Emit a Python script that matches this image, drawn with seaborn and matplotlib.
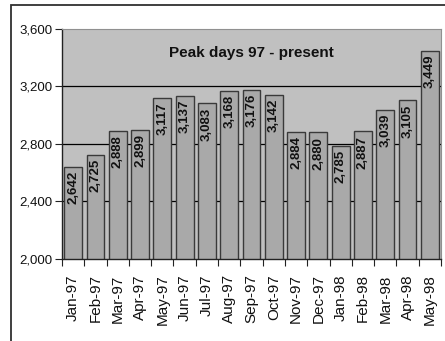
import matplotlib
matplotlib.use("Agg")
import matplotlib.pyplot as plt
from matplotlib.patches import Rectangle
from matplotlib.ticker import FixedLocator, FuncFormatter
import seaborn as sns
import pandas as pd

months = ["Jan-97", "Feb-97", "Mar-97", "Apr-97", "May-97", "Jun-97", "Jul-97",
          "Aug-97", "Sep-97", "Oct-97", "Nov-97", "Dec-97", "Jan-98", "Feb-98",
          "Mar-98", "Apr-98", "May-98"]
peak_days = [2642, 2725, 2888, 2899, 3117, 3137, 3083, 3168, 3176, 3142,
             2884, 2880, 2785, 2887, 3039, 3105, 3449]
y_ticks = [2000, 2400, 2800, 3200, 3600]
title = "Peak days 97 - present"

sns.set_theme(style="white")
plt.rcParams["font.family"] = ["Liberation Sans", "DejaVu Sans"]

df = pd.DataFrame({"month": months, "days": peak_days})

fig = plt.figure(figsize=(4.45, 3.41), dpi=100)
fig.patch.set_facecolor("white")
ax = fig.add_axes([62 / 445, 1 - 259 / 341, 379 / 445, 230 / 341])
ax.set_facecolor("#c0c0c0")

# outer chart frame (runs off the right and bottom of the canvas)
fig.patches.append(Rectangle((11 / 445, -0.1), 1.2, 1.1 - 5 / 341,
                             transform=fig.transFigure, fill=False,
                             edgecolor="#303030", linewidth=1.3, zorder=10))

for y in y_ticks[1:-1]:
    ax.axhline(y, color="black", linewidth=0.9, zorder=0.5)

sns.barplot(data=df, x="month", y="days", ax=ax, color="#a9a9a9",
            saturation=1, width=0.8, edgecolor="#3a3a3a", linewidth=1.0,
            zorder=2)

for i, v in enumerate(peak_days):
    ax.annotate(f"{v:,}", xy=(i, v), xytext=(0, -3), textcoords="offset points",
                rotation=90, ha="center", va="top", fontsize=9.5,
                fontweight="bold", color="#111111", zorder=3)

ax.set_ylim(2000, 3600)
ax.set_xlim(-0.5, len(months) - 0.5)
ax.set_yticks(y_ticks)
ax.yaxis.set_major_formatter(FuncFormatter(lambda v, p: f"{int(v):,}"))
ax.tick_params(axis="y", length=5, width=0.8, color="#222222", pad=2,
               labelsize=9.5, labelcolor="#111111", left=True, direction="out")

ax.set_xticks(range(len(months)))
ax.set_xticklabels(months, rotation=90, fontsize=11)
ax.xaxis.set_minor_locator(FixedLocator([i - 0.5 for i in range(len(months) + 1)]))
ax.tick_params(axis="x", which="major", length=0, pad=11, labelcolor="#111111")
ax.tick_params(axis="x", which="minor", length=5, width=0.8, color="#222222",
               direction="out", bottom=True)
ax.set_xlabel("")
ax.set_ylabel("")

for side in ["left", "bottom"]:
    ax.spines[side].set_color("#222222")
    ax.spines[side].set_linewidth(1.0)
for side in ["top", "right"]:
    ax.spines[side].set_color("#909090")
    ax.spines[side].set_linewidth(0.8)

ax.text(0.5, 0.895, title, transform=ax.transAxes, ha="center", va="center",
        fontsize=11, fontweight="bold", color="#111111")

fig.savefig("out.png", dpi=100)
